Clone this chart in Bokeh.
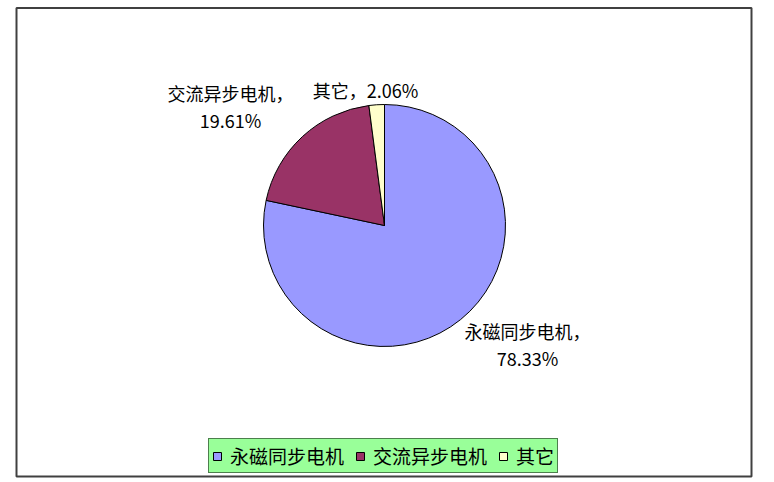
import math
from bokeh.plotting import figure
from bokeh.models import ColumnDataSource, Range1d, Legend, LegendItem
from bokeh.core.properties import value
from bokeh.embed import file_html
from bokeh.resources import INLINE

# ---- data ----
categories = ["永磁同步电机", "交流异步电机", "其它"]
shares = [78.33, 19.61, 2.06]
pct_labels = ["78.33%", "19.61%", "2.06%"]

# ---- style / layout ----
colors = ["#9999FF", "#993366", "#FFFFCC"]
FONT = "Noto Sans CJK SC"
W, H = 774, 482
cx, cy_page, radius = 384, 225, 121
label_sep = ["\n", "\n", ""]
label_pos_page = [(527, 344), (230, 106), (365, 89)]

total = sum(shares)
starts, ends = [], []
acc = 0.0
for s in shares:
    starts.append(math.pi / 2 - 2 * math.pi * acc / total)
    acc += s
    ends.append(math.pi / 2 - 2 * math.pi * acc / total)

src = ColumnDataSource(dict(
    name=categories, share=shares, color=colors,
    start=starts, end=ends,
))

p = figure(width=W, height=H, x_range=Range1d(0, W), y_range=Range1d(0, H),
           output_backend="svg", toolbar_location=None, min_border=0,
           x_axis_location=None, y_axis_location=None)
p.grid.visible = False
p.outline_line_color = None
p.background_fill_color = "white"
p.border_fill_color = "white"

# outer frame
p.quad(left=[16], right=[751], bottom=[H - 476], top=[H - 7.5],
       fill_color=None, line_color="#404040", line_width=2)

r = p.wedge(x=cx, y=H - cy_page, radius=radius, start_angle="start", end_angle="end",
            direction="clock", fill_color="color", line_color="black", line_width=1,
            source=src)

texts = [f"{c}，{sep}{pl}" for c, sep, pl in zip(categories, label_sep, pct_labels)]
p.text(x=[q[0] for q in label_pos_page], y=[H - q[1] for q in label_pos_page],
       text=texts, text_align="center", text_baseline="middle",
       text_font=value(FONT), text_font_size="18px", text_line_height=1.05,
       text_color="black")

legend = Legend(items=[LegendItem(label=categories[i], renderers=[r], index=i) for i in range(len(categories))],
                location=(208, 9), orientation="horizontal",
                background_fill_color="#99FF99", background_fill_alpha=1,
                border_line_color="black", border_line_width=1,
                padding=3, spacing=11, label_standoff=8, margin=0,
                glyph_width=10, glyph_height=10, label_height=14,
                label_text_font=FONT, label_text_font_size="19px", label_text_color="black")
p.add_layout(legend)

open("out.html", "w").write(file_html(p, INLINE))
